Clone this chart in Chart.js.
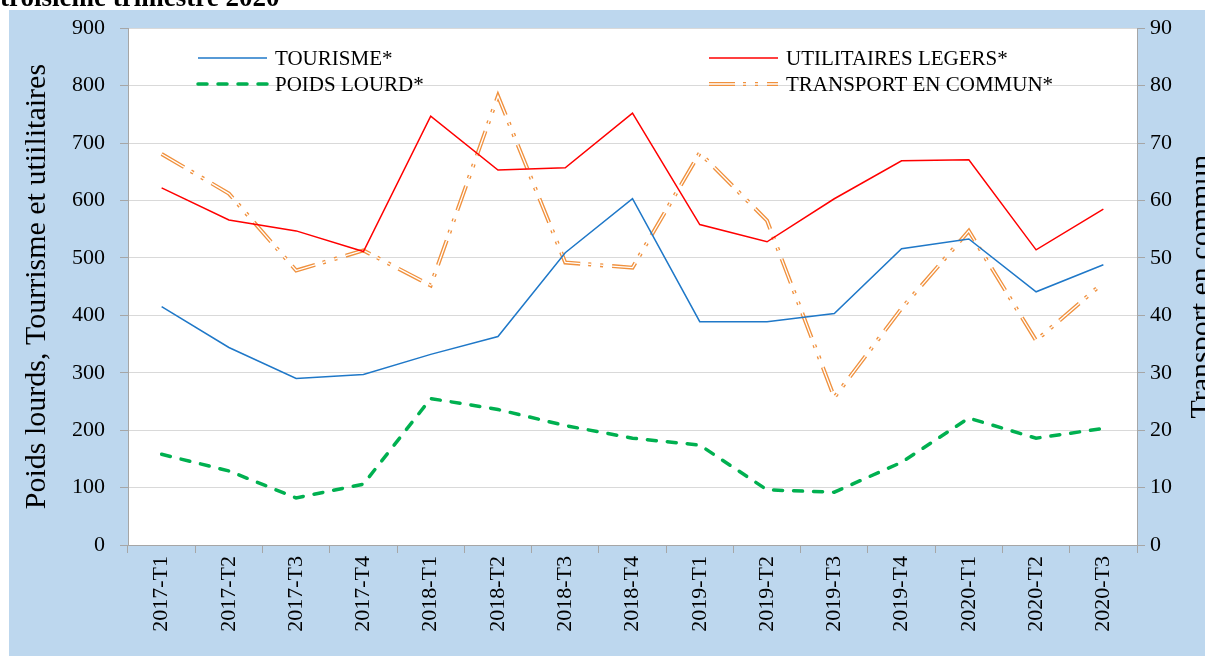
<!DOCTYPE html>
<html>
<head>
<meta charset="utf-8">
<script src="https://cdn.jsdelivr.net/npm/chart.js@4.4.0/dist/chart.umd.min.js"></script>
<style>
html, body { margin: 0; padding: 0; background: #fff; overflow: hidden; }
#wrap { width: 1205px; height: 656px; }
</style>
</head>
<body>
<div id="wrap"><canvas id="graphe"></canvas></div>
<script>
// valeurs
const trimestres = ["2017-T1", "2017-T2", "2017-T3", "2017-T4", "2018-T1", "2018-T2", "2018-T3", "2018-T4",
    "2019-T1", "2019-T2", "2019-T3", "2019-T4", "2020-T1", "2020-T2", "2020-T3"]
const tourisme = [415, 344, 290, 297, 332, 363, 509, 603, 389, 389, 403, 516, 533, 441, 488]
const utilitaires = [622, 566, 547, 511, 747, 653, 657, 752, 558, 528, 603, 669, 671, 514, 585]
const poidsLourd = [158, 129, 82, 106, 255, 236, 208, 186, 174, 96, 92, 144, 221, 186, 203]
const transportCommun = [68.1, 61.2, 47.8, 51.3, 45.2, 78.2, 49.2, 48.3, 68.3, 56.5, 25.7, 41.2, 54.7, 35.6, 45.7]
const ticksGauche = [0, 100, 200, 300, 400, 500, 600, 700, 800, 900]
const ticksDroite = [0, 10, 20, 30, 40, 50, 60, 70, 80, 90]

const police = "'Liberation Serif', 'Times New Roman', serif"
const bleuFond = "#BDD7EE"
const grisAxe = "#a6a6a6"
const orange = "#F0913E"
const tiretTransport = [26, 8, 3, 9, 3, 9]

// fond bleu, zone de tracé blanche, titre coupé en haut
const fondPlugin = {
    id: "fond",
    beforeDraw(chart) {
        const ctx = chart.ctx
        const a = chart.chartArea
        ctx.save()
        ctx.fillStyle = "#fff"
        ctx.fillRect(0, 0, chart.width, chart.height)
        ctx.fillStyle = bleuFond
        ctx.fillRect(9, 10, chart.width - 9, chart.height - 10)
        ctx.fillStyle = "#fff"
        ctx.fillRect(a.left, a.top, a.right - a.left, a.bottom - a.top)
        ctx.fillStyle = "#000"
        ctx.font = "bold 27px " + police
        ctx.textBaseline = "alphabetic"
        ctx.fillText("troisième trimestre 2020", 0, 6)
        ctx.restore()
    },
    afterDraw(chart) {
        const ctx = chart.ctx
        const a = chart.chartArea
        // titre de l'axe droit, lu de bas en haut
        ctx.save()
        ctx.fillStyle = "#000"
        ctx.font = "30px " + police
        ctx.textAlign = "center"
        ctx.textBaseline = "middle"
        ctx.translate(1202, (a.top + a.bottom) / 2)
        ctx.rotate(-Math.PI / 2)
        ctx.fillText("Transport en commun", 0, 0)
        ctx.restore()
    }
}

// légende sur deux colonnes dans la zone de tracé
const legendePlugin = {
    id: "legende",
    afterDraw(chart) {
        const ctx = chart.ctx
        const places = [[0, 198, 58], [1, 709, 58], [2, 198, 84], [3, 709, 84]]
        ctx.save()
        places.forEach(p => {
            const ds = chart.data.datasets[p[0]]
            const x = p[1], y = p[2]
            ctx.beginPath()
            ctx.moveTo(x, y)
            ctx.lineTo(x + 69, y)
            ctx.strokeStyle = ds.borderColor
            ctx.lineWidth = ds.borderWidth
            ctx.lineCap = ds.borderCapStyle || "butt"
            ctx.setLineDash(ds.borderDash || [])
            ctx.stroke()
            if (p[0] === 3) {
                const inner = chart.data.datasets[4]
                ctx.strokeStyle = inner.borderColor
                ctx.lineWidth = inner.borderWidth
                ctx.stroke()
            }
            ctx.setLineDash([])
            ctx.fillStyle = "#000"
            ctx.font = "21px " + police
            ctx.textBaseline = "middle"
            ctx.fillText(ds.label, x + 77, y + 1)
        })
        ctx.restore()
    }
}

const graphe = new Chart(document.getElementById("graphe"), {
    type: "line",
    data: {
        labels: trimestres,
        datasets: [
            { label: "TOURISME*", data: tourisme, borderColor: "#1F78C8", borderWidth: 1.5, yAxisID: "y" },
            { label: "UTILITAIRES LEGERS*", data: utilitaires, borderColor: "#FF0000", borderWidth: 1.5, yAxisID: "y" },
            { label: "POIDS LOURD*", data: poidsLourd, borderColor: "#00B050", borderWidth: 3.5,
                borderDash: [9, 11], borderCapStyle: "round", yAxisID: "y" },
            { label: "TRANSPORT EN COMMUN*", data: transportCommun, borderColor: orange, borderWidth: 4,
                borderDash: tiretTransport, yAxisID: "y1", order: 2 },
            // trait blanc au centre pour la ligne double
            { label: "", data: transportCommun, borderColor: "#fff", borderWidth: 1.3,
                borderDash: tiretTransport, yAxisID: "y1", order: 1 }
        ]
    },
    options: {
        responsive: true,
        maintainAspectRatio: false,
        animation: false,
        layout: { padding: { top: 27, left: 0, right: 0, bottom: 0 } },
        elements: { point: { radius: 0 }, line: { tension: 0 } },
        plugins: { legend: { display: false }, tooltip: { enabled: false } },
        scales: {
            x: {
                offset: true,
                grid: { offset: true, drawOnChartArea: false, tickLength: 8, color: grisAxe },
                border: { color: grisAxe },
                ticks: { autoSkip: false, minRotation: 90, maxRotation: 90, padding: 3, color: "#000",
                    font: { family: police, size: 22 } },
                afterFit(s) { s.height = 111 }
            },
            y: {
                position: "left",
                min: 0,
                max: 900,
                afterBuildTicks(s) { s.ticks = ticksGauche.map(v => ({ value: v })) },
                grid: { color: "#d9d9d9", tickColor: grisAxe, tickLength: 8 },
                border: { color: grisAxe },
                ticks: { padding: 15, color: "#000", font: { family: police, size: 22 } },
                title: { display: true, text: "Poids lourds, Tourrisme et utiilitaires", color: "#000",
                    font: { family: police, size: 30 }, padding: { top: 19, bottom: 0 } },
                afterFit(s) { s.width = 128 }
            },
            y1: {
                position: "right",
                min: 0,
                max: 90,
                afterBuildTicks(s) { s.ticks = ticksDroite.map(v => ({ value: v })) },
                grid: { drawOnChartArea: false, color: grisAxe, tickLength: 8 },
                border: { color: grisAxe },
                ticks: { padding: 5, color: "#000", font: { family: police, size: 22 } },
                afterFit(s) { s.width = 68 }
            }
        }
    },
    plugins: [fondPlugin, legendePlugin]
})
</script>
</body>
</html>
